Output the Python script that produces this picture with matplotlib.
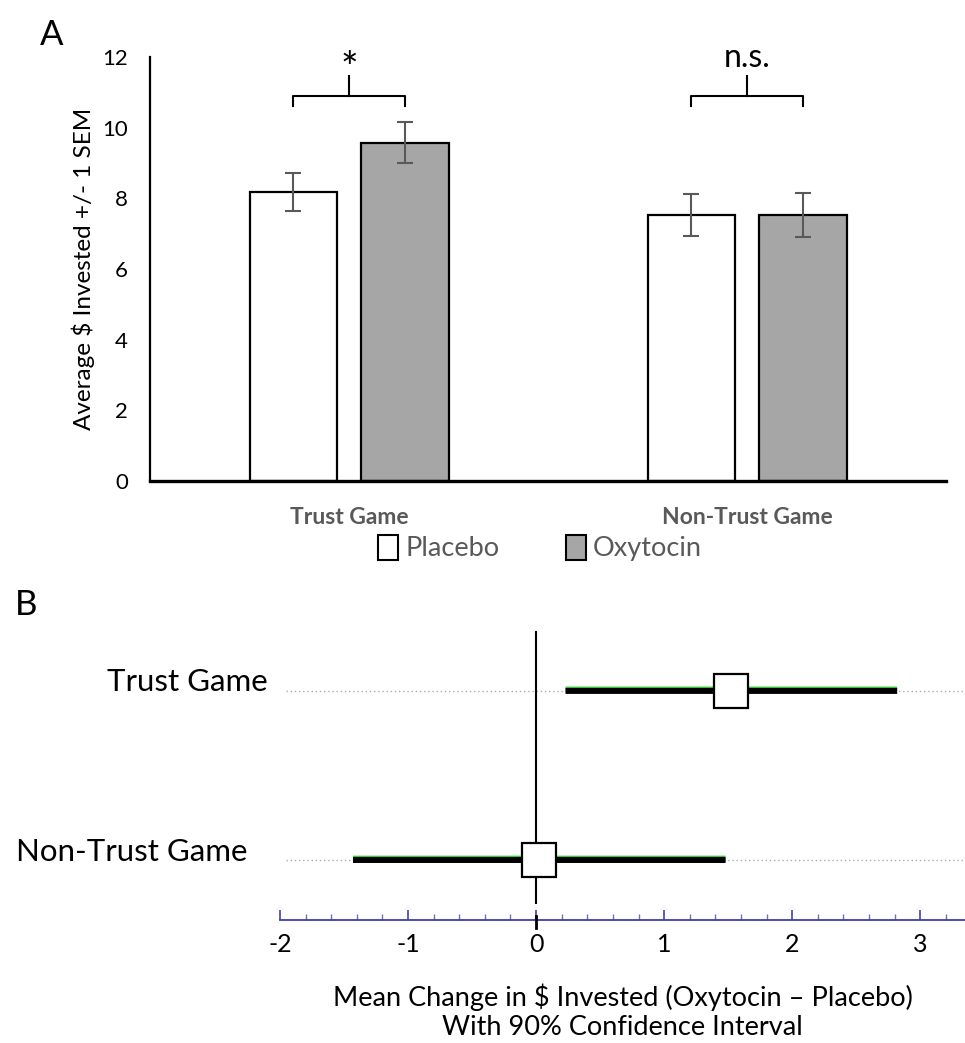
import numpy as np
import matplotlib
matplotlib.use('Agg')
import matplotlib.pyplot as plt
import matplotlib.transforms as mtransforms
from matplotlib.patches import Patch

plt.rcParams['font.family'] = ['Lato', 'DejaVu Sans']
plt.rcParams['axes.unicode_minus'] = False

# panel A data
categories = ['Trust Game', 'Non-Trust Game']
placebo = [8.18, 7.53]
placebo_sem = [0.53, 0.60]
oxytocin = [9.58, 7.53]
oxytocin_sem = [0.58, 0.62]
sig_labels = ['*', 'n.s.']

# panel B data
effect_labels = ['Trust Game', 'Non-Trust Game']
mean_change = [1.52, 0.02]
ci_low = [0.23, -1.43]
ci_high = [2.82, 1.48]

W, H = 965, 1043
fig = plt.figure(figsize=(W / 100, H / 100), dpi=100)

# ---------- panel A ----------
axA = fig.add_axes([150 / W, 1 - 481 / H, (946 - 150) / W, (481 - 57) / H])
x = np.arange(len(categories))
bw, off = 0.22, 0.14
ekw = dict(ecolor='#595959', capsize=6, elinewidth=1.5, capthick=1.5)
axA.bar(x - off, placebo, bw, yerr=placebo_sem, color='white', edgecolor='black',
        linewidth=1.6, error_kw=ekw)
axA.bar(x + off, oxytocin, bw, yerr=oxytocin_sem, color='#a6a6a6', edgecolor='black',
        linewidth=1.6, error_kw=ekw)
axA.set_xlim(-0.5, 1.5)
axA.set_ylim(0, 12)
axA.set_yticks(range(0, 13, 2))
axA.tick_params(axis='y', length=0, pad=16, labelsize=16)
axA.set_xticks(x)
axA.set_xticklabels(categories, fontweight='bold', color='#595959', fontsize=16.5)
axA.tick_params(axis='x', length=0, pad=19)
for s in ['top', 'right']:
    axA.spines[s].set_visible(False)
axA.spines['left'].set_linewidth(1.6)
axA.spines['bottom'].set_linewidth(2.4)
axA.set_ylabel('Average $ Invested +/- 1 SEM', fontsize=17.5, labelpad=5)

# significance brackets
for i, lab in enumerate(sig_labels):
    x0, x1 = x[i] - off, x[i] + off
    axA.plot([x0, x0, x1, x1], [10.62, 10.9, 10.9, 10.62], color='black', lw=1.5,
             solid_joinstyle='round', clip_on=False)
    axA.plot([x[i], x[i]], [10.9, 11.47], color='black', lw=1.5, clip_on=False)
    if lab == '*':
        axA.text(x[i], 11.3, lab, ha='center', va='baseline', fontsize=30, clip_on=False)
    else:
        axA.text(x[i], 11.73, lab, ha='center', va='baseline', fontsize=23, clip_on=False)

fig.legend(handles=[Patch(facecolor='white', edgecolor='black', linewidth=1.5, label='Placebo'),
                    Patch(facecolor='#a6a6a6', edgecolor='black', linewidth=1.5, label='Oxytocin')],
           loc='center', bbox_to_anchor=(540 / W, 1 - 548 / H), ncol=2, frameon=False,
           handlelength=0.75, handleheight=1.05, handletextpad=0.25, columnspacing=2.45,
           fontsize=19.5, labelcolor='#595959')

fig.text(40 / W, 1 - 45 / H, 'A', fontsize=25, va='baseline')
fig.text(15 / W, 1 - 615 / H, 'B', fontsize=25, va='baseline')

# ---------- panel B ----------
axB = fig.add_axes([280 / W, 1 - 920 / H, (965 - 280) / W, (920 - 625) / H])
rows = [1, 0]
axB.set_xlim(-2, 3.35)
axB.set_ylim(-0.355, 1.39)
for r, lo, hi, m in zip(rows, ci_low, ci_high, mean_change):
    axB.plot([-1.95, 3.35], [r, r], color='#aaaaaa', lw=1, ls=(0, (1, 2)), zorder=1)
    axB.plot([lo, hi], [r + 0.008, r + 0.008], color='#33cc33', lw=4.3, zorder=2,
             solid_capstyle='butt', snap=False)
    axB.plot([lo, hi], [r, r], color='black', lw=4.3, zorder=3,
             solid_capstyle='butt', snap=False)
    axB.plot([m], [r], marker='s', ms=25, mfc='white', mec='black', mew=1.6, zorder=5)
# zero reference line, plus its short tick through the axis
axB.plot([0, 0], [-0.254, 1.35], color='black', lw=1.5, zorder=4, clip_on=False)
axB.plot([0, 0], [-0.405, -0.33], color='black', lw=2, zorder=6, clip_on=False)

tr = mtransforms.blended_transform_factory(fig.transFigure, axB.transData)
for r, lab, xr in zip(rows, effect_labels, [268, 247]):
    axB.text(xr / W, r + 0.05, lab, transform=tr, ha='right', va='center', fontsize=22.5)

for s in ['top', 'right', 'left']:
    axB.spines[s].set_visible(False)
axB.spines['bottom'].set_color('#3f3fa8')
axB.spines['bottom'].set_linewidth(1.3)
axB.set_yticks([])
axB.set_xticks(range(-2, 4))
axB.set_xticks(np.arange(-2, 3.35, 0.2), minor=True)
axB.tick_params(axis='x', which='major', direction='in', length=7, color='#3f3fa8',
                width=1.2, labelsize=18, pad=9)
axB.tick_params(axis='x', which='minor', direction='in', length=4.5, color='#6f6fc0', width=1)
axB.set_xlabel('Mean Change in $ Invested (Oxytocin \u2013 Placebo)\nWith 90% Confidence Interval',
               fontsize=19.5, labelpad=20, linespacing=1.2)

fig.savefig('out.png', dpi=100)
